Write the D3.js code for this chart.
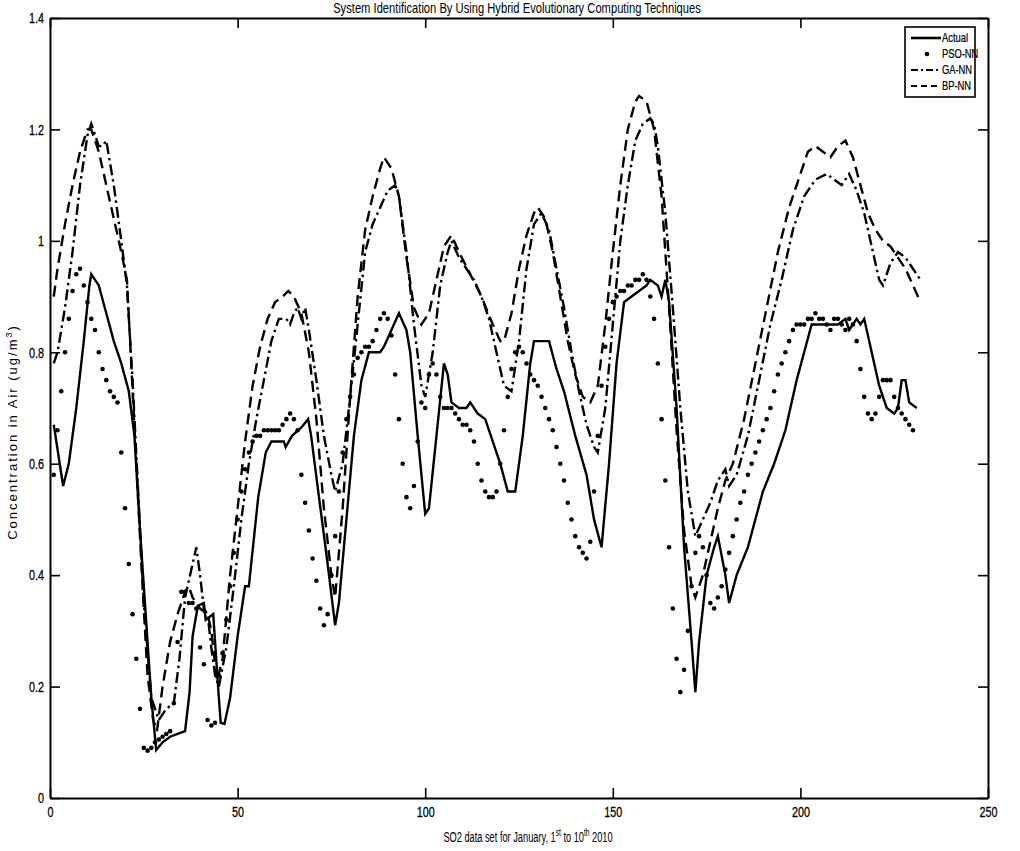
<!DOCTYPE html>
<html>
<head>
<meta charset="utf-8">
<script src="https://cdn.jsdelivr.net/npm/d3@7"></script>
<style>
  body { margin: 0; background: #fff; }
  text { font-family: "Liberation Sans", Arial, sans-serif; fill: #000; }
</style>
</head>
<body>
<div id="chart"></div>
<script>
// # Axis ticks and labels
const xTicks = [0, 50, 100, 150, 200, 250]
const yTicks = [0, 0.2, 0.4, 0.6, 0.8, 1, 1.2, 1.4]
const seriesNames = ['Actual', 'PSO-NN', 'GA-NN', 'BP-NN']

// # Actual: [sample, value] corners of the solid line
const actualPoints = [
  [1,0.67],[3.5,0.56],[5,0.6],[7,0.7],[9,0.82],[10.5,0.92],[11,0.94],[12,0.93],[13,0.92],[15,0.87],
  [17,0.82],[19,0.78],[21,0.73],[22.5,0.65],[24,0.48],[25.5,0.33],[27,0.18],[28.3,0.086],[30,0.1],[32,0.11],
  [34,0.115],[36,0.12],[37.2,0.19],[38,0.29],[39.4,0.345],[41,0.35],[41.5,0.32],[42.5,0.325],[43.5,0.33],[45,0.18],
  [45.5,0.135],[46.5,0.133],[48,0.18],[50,0.29],[52,0.38],[53,0.38],[55.5,0.54],[57.5,0.62],[59,0.64],[62.3,0.64],
  [62.8,0.63],[64.5,0.65],[67,0.665],[68.8,0.68],[69.6,0.65],[71.5,0.55],[74,0.42],[76,0.31],[77,0.35],[79,0.5],
  [81,0.65],[83,0.75],[85,0.8],[88,0.8],[89,0.81],[91,0.84],[93,0.87],[95,0.84],[96,0.8],[98,0.65],
  [100,0.51],[101,0.52],[103,0.65],[105,0.78],[106,0.76],[107,0.71],[109,0.7],[111,0.7],[112,0.71],[114,0.69],
  [116,0.68],[118,0.64],[120,0.6],[122,0.55],[124,0.55],[126,0.65],[128,0.78],[129,0.82],[133,0.82],[135,0.77],
  [137,0.73],[140,0.65],[143,0.58],[145,0.5],[147,0.45],[149,0.6],[151,0.78],[153,0.89],[155,0.9],[157,0.91],
  [159,0.92],[160,0.93],[162,0.92],[163,0.9],[164,0.93],[165,0.89],[167,0.7],[169,0.45],[171,0.28],[172,0.19],
  [173,0.28],[175,0.4],[177,0.45],[178,0.47],[180,0.4],[181,0.35],[183,0.4],[186,0.45],[188,0.5],[190,0.55],
  [193,0.6],[196,0.66],[199,0.75],[201,0.8],[203,0.85],[206,0.85],[210,0.85],[212,0.86],[213,0.84],[215,0.86],
  [216,0.85],[217,0.86],[219,0.8],[221,0.74],[223,0.7],[225,0.69],[226,0.7],[227,0.75],[228,0.75],[229,0.71],
  [231,0.7]
]

// # PSO-NN: one value per sample, starting at sample 1
const psoValues = [
  0.58,0.66,0.73,0.80,0.86,0.91,0.94,0.95,0.92,0.89,
  0.86,0.84,0.80,0.77,0.75,0.73,0.72,0.71,0.62,0.52,
  0.42,0.33,0.25,0.16,0.09,0.085,0.09,0.10,0.105,0.11,
  0.115,0.12,0.17,0.28,0.37,0.37,0.35,0.35,0.34,0.27,
  0.24,0.14,0.13,0.135,0.22,0.26,0.32,0.38,0.44,0.50,
  0.55,0.59,0.62,0.64,0.65,0.65,0.66,0.66,0.66,0.66,
  0.66,0.67,0.68,0.69,0.68,0.66,0.58,0.53,0.48,0.43,
  0.39,0.34,0.31,0.33,0.40,0.47,0.55,0.62,0.68,0.72,
  0.76,0.79,0.80,0.81,0.81,0.82,0.84,0.86,0.87,0.86,
  0.83,0.76,0.68,0.60,0.54,0.52,0.56,0.64,0.71,0.70,
  0.76,0.78,0.76,0.72,0.70,0.70,0.70,0.69,0.68,0.67,
  0.67,0.66,0.64,0.60,0.57,0.55,0.54,0.54,0.55,0.60,
  0.66,0.72,0.77,0.80,0.81,0.80,0.78,0.76,0.75,0.74,
  0.72,0.70,0.68,0.66,0.63,0.60,0.57,0.53,0.50,0.47,
  0.45,0.44,0.43,0.46,0.55,0.65,0.74,0.81,0.86,0.89,
  0.90,0.91,0.91,0.92,0.92,0.93,0.93,0.94,0.93,0.90,
  0.86,0.78,0.68,0.57,0.45,0.34,0.25,0.19,0.23,0.30,
  0.38,0.44,0.47,0.45,0.40,0.35,0.34,0.36,0.38,0.41,
  0.44,0.47,0.50,0.53,0.55,0.58,0.60,0.62,0.64,0.66,
  0.68,0.70,0.73,0.76,0.78,0.80,0.82,0.84,0.85,0.85,
  0.85,0.86,0.86,0.87,0.86,0.86,0.85,0.84,0.86,0.86,
  0.85,0.84,0.86,0.85,0.82,0.77,0.72,0.69,0.68,0.69,
  0.72,0.75,0.75,0.75,0.72,0.70,0.69,0.68,0.67,0.66
]

// # GA-NN: [sample, value] corners of the dash-dot line
const gaPoints = [
  [1,0.78],[2,0.8],[4,0.88],[6,0.98],[8,1.1],[10,1.19],[11,1.21],[12,1.19],[13,1.17],[14,1.17],
  [15,1.18],[17,1.1],[19,1.0],[20.5,0.92],[22,0.75],[23.5,0.55],[25,0.35],[27,0.18],[29,0.14],[31,0.16],
  [33,0.17],[34.5,0.25],[36,0.36],[38,0.42],[39,0.45],[40,0.4],[41,0.34],[42,0.33],[43,0.27],[44,0.22],
  [45,0.2],[47,0.27],[49,0.38],[51,0.5],[53,0.6],[55,0.68],[57,0.75],[59,0.82],[61,0.86],[63,0.86],
  [64,0.85],[65,0.87],[66,0.88],[67,0.86],[68,0.88],[69,0.84],[71,0.75],[73,0.65],[75,0.58],[76,0.55],
  [78,0.6],[80,0.72],[82,0.85],[84,0.98],[86,1.03],[88,1.06],[90,1.09],[92,1.1],[93,1.08],[95,0.98],
  [97,0.85],[99,0.74],[100,0.72],[102,0.8],[104,0.92],[106,0.98],[107,1.0],[109,0.97],[111,0.95],[113,0.93],
  [115,0.9],[117,0.86],[119,0.8],[121,0.74],[123,0.73],[125,0.82],[127,0.95],[129,1.03],[131,1.05],[133,1.02],
  [135,0.95],[137,0.88],[139,0.8],[141,0.73],[143,0.67],[145,0.63],[146,0.62],[148,0.7],[150,0.85],[152,1.0],
  [154,1.1],[156,1.18],[158,1.21],[160,1.22],[161,1.21],[162,1.17],[164,1.05],[166,0.88],[168,0.7],[170,0.55],
  [172,0.47],[174,0.5],[176,0.53],[178,0.57],[180,0.59],[181,0.56],[183,0.58],[186,0.65],[189,0.75],[192,0.85],
  [195,0.93],[198,1.02],[201,1.08],[204,1.11],[207,1.12],[209,1.11],[211,1.1],[213,1.12],[215,1.09],[217,1.05],
  [219,0.99],[221,0.93],[222,0.92],[224,0.96],[226,0.98],[228,0.97],[230,0.95],[232,0.93]
]

// # BP-NN: [sample, value] corners of the dashed line
const bpPoints = [
  [1,0.9],[2,0.95],[4,1.03],[6,1.1],[8,1.16],[10,1.2],[11,1.2],[13,1.16],[15,1.1],[17,1.04],
  [19,0.98],[20.5,0.93],[21.5,0.8],[23,0.6],[24.5,0.4],[26,0.22],[27.5,0.14],[28.5,0.12],[30,0.2],[32,0.28],
  [34,0.33],[36,0.37],[37,0.38],[38,0.36],[40,0.34],[42,0.33],[43,0.3],[44.5,0.21],[46,0.25],[48,0.4],
  [50,0.52],[52,0.64],[54,0.74],[56,0.81],[58,0.86],[60,0.89],[62,0.9],[63.5,0.91],[65,0.9],[67,0.87],
  [69,0.8],[71,0.68],[73,0.52],[75,0.4],[76,0.36],[78,0.52],[80,0.72],[82,0.9],[84,1.02],[86,1.08],
  [88,1.13],[89,1.15],[91,1.13],[93,1.08],[95,0.97],[97,0.88],[99,0.85],[101,0.87],[103,0.93],[105,0.99],
  [107,1.01],[109,0.98],[112,0.94],[115,0.9],[118,0.85],[120,0.82],[121,0.82],[123,0.87],[125,0.95],[127,1.01],
  [129,1.05],[130,1.06],[132,1.04],[134,0.98],[136,0.9],[138,0.82],[140,0.76],[142,0.72],[144,0.71],[146,0.74],
  [148,0.85],[150,0.98],[152,1.1],[154,1.2],[156,1.25],[157,1.26],[159,1.25],[161,1.2],[163,1.08],[165,0.88],
  [167,0.66],[169,0.48],[171,0.38],[172,0.36],[174,0.4],[176,0.46],[178,0.52],[180,0.57],[182,0.6],[185,0.68],
  [188,0.78],[191,0.88],[194,0.98],[197,1.06],[200,1.12],[202,1.16],[204,1.17],[206,1.16],[208,1.15],[210,1.17],
  [212,1.18],[214,1.15],[216,1.1],[218,1.05],[220,1.02],[222,1.0],[224,0.99],[226,0.97],[228,0.95],[230,0.92],
  [232,0.89]
]

// # Page and plot box
const width = 1020
const height = 851
const plotLeft = 50
const plotRight = 988
const plotTop = 18
const plotBottom = 798
const tickLength = 10
const lineWidth = 2.4
// # The scan uses a condensed face; squeeze glyphs horizontally.
const narrow = 0.72

const svg = d3.select('#chart')
    .append('svg')
    .attr('width', width)
    .attr('height', height)

const x = d3.scaleLinear().domain([0, 250]).range([plotLeft, plotRight])
const y = d3.scaleLinear().domain([0, 1.4]).range([plotBottom, plotTop])

// # Axes: ticks point inwards, labels outside (MATLAB look)
svg.append('g')
    .attr('transform', 'translate(0,' + plotBottom + ')')
    .call(d3.axisBottom(x).tickValues(xTicks).tickSizeInner(-tickLength).tickSizeOuter(0).tickPadding(8))
svg.append('g')
    .attr('transform', 'translate(0,' + plotTop + ')')
    .call(d3.axisTop(x).tickValues(xTicks).tickSizeInner(-tickLength).tickSizeOuter(0).tickFormat(''))
const yAxisG = svg.append('g')
    .attr('transform', 'translate(' + plotLeft + ',0)')
    .call(d3.axisLeft(y).tickValues(yTicks).tickSizeInner(-tickLength).tickSizeOuter(0).tickPadding(4)
        .tickFormat(d => String(d)))
svg.append('g')
    .attr('transform', 'translate(' + plotRight + ',0)')
    .call(d3.axisRight(y).tickValues(yTicks).tickSizeInner(-tickLength).tickSizeOuter(0).tickFormat(''))

svg.selectAll('.domain').attr('stroke', '#000').attr('stroke-width', 2)
svg.selectAll('.tick line').attr('stroke', '#000').attr('stroke-width', 1.6)
svg.selectAll('.tick text')
    .attr('font-size', 15)
    .attr('font-family', '"Liberation Sans", Arial, sans-serif')
    .attr('stroke', '#000').attr('stroke-width', 0.3)
    .attr('transform', 'scale(' + narrow + ',1)')
// # Left labels: keep the right edge next to the axis after squeezing.
yAxisG.selectAll('.tick text').attr('x', -6 / narrow)

// # Series lines
const line = d3.line().x(d => x(d[0])).y(d => y(d[1]))
const plot = svg.append('g')

plot.append('path').datum(bpPoints)
    .attr('d', line).attr('fill', 'none').attr('stroke', '#000')
    .attr('stroke-width', lineWidth).attr('stroke-dasharray', '11,6')
plot.append('path').datum(gaPoints)
    .attr('d', line).attr('fill', 'none').attr('stroke', '#000')
    .attr('stroke-width', lineWidth).attr('stroke-dasharray', '11,4,2.5,4')
plot.append('path').datum(actualPoints)
    .attr('d', line).attr('fill', 'none').attr('stroke', '#000')
    .attr('stroke-width', lineWidth)

plot.selectAll('circle.pso')
    .data(psoValues)
    .enter().append('circle')
    .attr('class', 'pso')
    .attr('cx', (d, i) => x(i + 1))
    .attr('cy', d => y(d))
    .attr('r', 2.3)
    .attr('fill', '#000')

// # Legend
const legend = svg.append('g').attr('transform', 'translate(905,27)')
legend.append('rect')
    .attr('width', 70).attr('height', 70)
    .attr('fill', '#fff').attr('stroke', '#000').attr('stroke-width', 1.6)
const dashes = [null, null, '7,3,2,3', '6,4']
seriesNames.forEach((name, i) => {
    const ly = 11 + i * 16
    if (i === 1) {
        legend.append('circle').attr('cx', 22).attr('cy', ly).attr('r', 2.3).attr('fill', '#000')
    } else {
        legend.append('line')
            .attr('x1', 6).attr('x2', 36).attr('y1', ly).attr('y2', ly)
            .attr('stroke', '#000').attr('stroke-width', i === 0 ? 2.6 : 1.8)
            .attr('stroke-dasharray', dashes[i])
    }
    legend.append('text')
        .attr('transform', 'translate(37,' + (ly + 4) + ') scale(' + narrow + ',1)')
        .attr('font-size', 13)
        .attr('stroke', '#000').attr('stroke-width', 0.25)
        .text(name)
})

// # Title and axis labels
svg.append('text')
    .attr('transform', 'translate(517,13) scale(0.8,1)')
    .attr('text-anchor', 'middle')
    .attr('font-size', 14)
    .text('System Identification By Using Hybrid Evolutionary Computing Techniques')

const xLabel = svg.append('text')
    .attr('transform', 'translate(528,842) scale(0.66,1)')
    .attr('text-anchor', 'middle')
    .attr('font-size', 14)
xLabel.append('tspan').text('SO2 data set for January, 1')
xLabel.append('tspan').attr('dy', -6).attr('font-size', 10).text('st')
xLabel.append('tspan').attr('dy', 6).text(' to 10')
xLabel.append('tspan').attr('dy', -6).attr('font-size', 10).text('th')
xLabel.append('tspan').attr('dy', 6).text(' 2010')

const yLabel = svg.append('text')
    .attr('transform', 'translate(17,432) rotate(-90)')
    .attr('text-anchor', 'middle')
    .attr('font-size', 13)
    .attr('letter-spacing', 2)
yLabel.append('tspan').text('Concentration in Air (ug/m')
yLabel.append('tspan').attr('dy', -5).attr('font-size', 9).text('3')
yLabel.append('tspan').attr('dy', 5).text(')')
</script>
</body>
</html>
